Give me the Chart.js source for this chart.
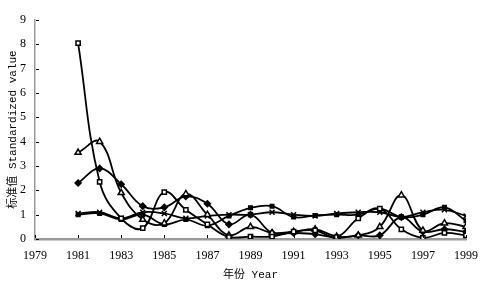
<!DOCTYPE html>
<html>
<head>
<meta charset="utf-8">
<script src="https://cdn.jsdelivr.net/npm/chart.js@4"></script>
<style>
  html, body { margin: 0; padding: 0; background: #fff; }
  #wrap { width: 490px; height: 286px; }
</style>
</head>
<body>
<div id="wrap"><canvas id="myChart" width="490" height="286"></canvas></div>
<script>
// years on the x axis
var years = [1981, 1982, 1983, 1984, 1985, 1986, 1987, 1988, 1989, 1990,
             1991, 1992, 1993, 1994, 1995, 1996, 1997, 1998, 1999];

// standardized values, one array per line
var seriesSquare   = [8.05, 2.35, 0.85, 0.45, 1.93, 1.2, 0.6, 0.08, 0.1, 0.1, 0.3, 0.35, 0.08, 0.85, 1.25, 0.4, 0.05, 0.25, 0.15];
var seriesTriangle = [3.55, 4.0, 1.9, 0.8, 0.65, 1.85, 1.0, 0.15, 0.5, 0.25, 0.3, 0.4, 0.1, 0.15, 0.5, 1.8, 0.35, 0.65, 0.5];
var seriesDiamond  = [2.3, 2.9, 2.25, 1.35, 1.3, 1.75, 1.45, 0.6, 1.0, 0.25, 0.25, 0.2, 0.05, 0.15, 0.15, 0.9, 0.3, 0.4, 0.3];
var seriesCross    = [1.05, 1.1, 0.85, 1.1, 1.05, 0.85, 0.95, 1.0, 1.0, 1.1, 1.0, 0.95, 1.05, 1.1, 1.1, 0.9, 1.1, 1.2, 0.95];
var seriesBox      = [1.0, 1.05, 0.8, 1.0, 0.6, 0.8, 0.55, 0.95, 1.28, 1.35, 0.9, 0.97, 1.0, 1.0, 1.25, 0.9, 1.0, 1.3, 0.75];

// tick values
var xTicks = [1979, 1981, 1983, 1985, 1987, 1989, 1991, 1993, 1995, 1997, 1999];
var yTicks = [0, 1, 2, 3, 4, 5, 6, 7, 8, 9];

function pts(vals) {
    return years.map(function (y, i) { return { x: y, y: vals[i] }; });
}

function line(vals, style, fill, r) {
    return {
        data: pts(vals),
        borderColor: '#000',
        borderWidth: 1.8,
        pointStyle: style,
        pointRadius: r || 3,
        pointBackgroundColor: fill,
        pointBorderColor: '#000',
        pointBorderWidth: 1.5,
        tension: 0.4
    };
}

// small tick marks pointing into the plot
var innerTicks = {
    id: 'innerTicks',
    afterDatasetsDraw: function (chart) {
        var c = chart.ctx, xs = chart.scales.x, ys = chart.scales.y;
        c.save();
        c.strokeStyle = '#000';
        c.lineWidth = 1;
        xTicks.forEach(function (t) {
            var px = Math.round(xs.getPixelForValue(t)) + 0.5;
            c.beginPath();
            c.moveTo(px, ys.bottom - 1);
            c.lineTo(px, ys.bottom - 4);
            c.stroke();
        });
        yTicks.forEach(function (t) {
            var py = Math.round(ys.getPixelForValue(t)) + 0.5;
            c.beginPath();
            c.moveTo(xs.left + 1, py);
            c.lineTo(xs.left + 4, py);
            c.stroke();
        });
        c.restore();
    }
};

var serif = '"Liberation Serif", "Noto Sans CJK SC", serif';
var mono = '"Liberation Mono", "Noto Sans CJK SC", monospace';

var ctx = document.getElementById('myChart').getContext('2d');
var myChart = new Chart(ctx, {
    type: 'line',
    data: {
        datasets: [
            line(seriesSquare, 'rect', '#fff', 3),
            line(seriesTriangle, 'triangle', '#fff', 3.5),
            line(seriesDiamond, 'rectRot', '#000', 3),
            line(seriesCross, 'crossRot', '#000', 3.5),
            line(seriesBox, 'rect', '#000', 2.5)
        ]
    },
    options: {
        responsive: false,
        animation: false,
        layout: { padding: { top: 20, right: 24, left: 0, bottom: 0 } },
        plugins: {
            legend: { display: false },
            tooltip: { enabled: false }
        },
        scales: {
            x: {
                type: 'linear',
                min: 1979,
                max: 1999,
                afterBuildTicks: function (s) {
                    s.ticks = xTicks.map(function (v) { return { value: v }; });
                },
                afterFit: function (s) { s.height = 47; },
                grid: { display: false, drawTicks: false },
                border: { color: '#9a9a9a', width: 2.5 },
                ticks: {
                    color: '#000',
                    padding: 10,
                    maxRotation: 0,
                    font: { family: serif, size: 12 },
                    callback: function (v) { return String(v); }
                },
                title: {
                    display: true,
                    text: '年份 Year',
                    color: '#000',
                    padding: { top: 2 },
                    font: { family: mono, size: 11 }
                }
            },
            y: {
                min: 0,
                max: 9,
                afterBuildTicks: function (s) {
                    s.ticks = yTicks.map(function (v) { return { value: v }; });
                },
                afterFit: function (s) { s.width = 35; },
                grid: { display: false, drawTicks: false },
                border: { color: '#9a9a9a', width: 1.5 },
                ticks: {
                    color: '#000',
                    padding: 9,
                    font: { family: serif, size: 12 }
                },
                title: {
                    display: true,
                    text: '标准值 Standardized value',
                    color: '#000',
                    padding: { top: 6, bottom: 0 },
                    font: { family: mono, size: 11 }
                }
            }
        }
    },
    plugins: [innerTicks]
});
</script>
</body>
</html>
